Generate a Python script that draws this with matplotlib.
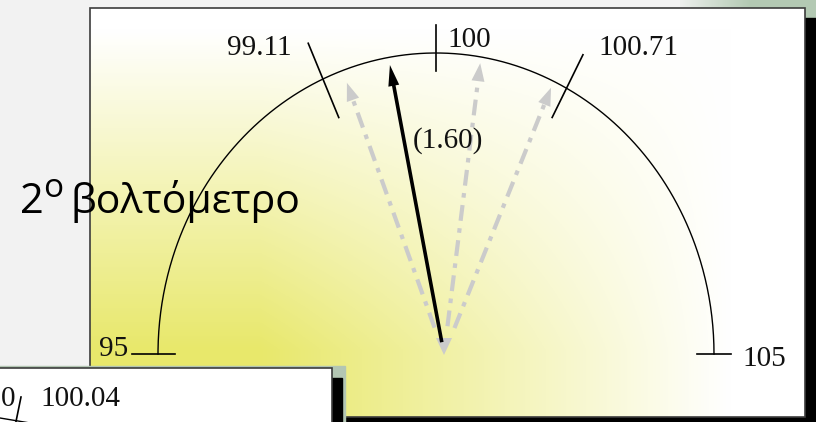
import numpy as np
import matplotlib
matplotlib.use('Agg')
import matplotlib.pyplot as plt
from matplotlib.patches import Rectangle, Polygon

# ---------------- data ----------------
scale_min, scale_max = 95, 105
tick_values = [95, 99.11, 100, 100.71, 105]
tick_labels = ['95', '99.11', '100', '100.71', '105']
tick_angles = [180, 114, 90, 62, 0]          # where each tick sits on the dial (deg)
needle_label = '(1.60)'
needle_angle = 100.6                          # black needle direction (deg)
ghost_angles = [109.7, 82.9, 68.1]            # grey dash-dot needles (deg)
title_parts = ['2', 'ο', 'βολτόμετρο']
second_labels = ['0', '100.04']

# ---------------- layout / style ----------------
W, H = 816, 422
cx, cy, rx, ry = 436, 354, 278, 301           # dial arc
px, py = 444, 354                             # needle pivot
tick_inner = [0.939, 0.86, 0.94, 0.89, 0.939]
tick_outer = [1.094, 1.13, 1.093, 1.126, 1.061]
label_pos = [(128, 356, 'right'), (259, 55, 'center'), (447, 47, 'left'),
             (638, 55, 'center'), (742, 366, 'left')]
needle_len = 294
ghost_len = [288, 293, 287]
serif = ['Liberation Serif', 'DejaVu Serif']
sans = ['Open Sans', 'Noto Sans', 'DejaVu Sans']
ghost_col = '#cbcbcb'

fig = plt.figure(figsize=(W / 100, H / 100), dpi=100)
ax = fig.add_axes([0, 0, 1, 1])
ax.set_xlim(0, W)
ax.set_ylim(H, 0)
ax.axis('off')

# slide background
ax.add_patch(Rectangle((0, 0), W, H, color='#f2f2f2', zorder=0))
band = np.linspace(0, 1, 200)[None, :, None]
c0 = np.array([0.93, 0.94, 0.93]); c1 = np.array([0.70, 0.79, 0.70])
ax.imshow(c0 * (1 - band) + c1 * band, extent=[680, 750, 18, 0], aspect='auto', zorder=0.5)
ax.add_patch(Rectangle((750, 0), 70, 18, color='#b3c9b3', zorder=0.5))

# main panel: shadow + gradient fill + frame
ax.add_patch(Rectangle((100, 18), 720, 420, color='black', zorder=1))
x0, x1, y0, y1 = 90, 805, 8, 417
gx, gy = np.meshgrid(np.linspace(x0, x1, 400), np.linspace(y0, y1, 240))
tx = np.clip((730 - gx) / (730 - 260), 0, 1)
ty = np.clip((gy - 30) / (350 - 30), 0, 1)
t = (tx * ty) ** 1.0
yel = np.array([0.91, 0.91, 0.42])
img = (1 - t[..., None]) * 1.0 + t[..., None] * yel
ax.imshow(img, extent=[x0, x1, y1, y0], aspect='auto', zorder=2)
ax.add_patch(Rectangle((x0, y0), x1 - x0, y1 - y0, fill=False, ec='#3c3c3c', lw=1.2, zorder=2.1))

# dial arc
th = np.linspace(0, np.pi, 500)
ax.plot(cx + rx * np.cos(th), cy - ry * np.sin(th), color='black', lw=1.0, zorder=3)

# ticks + labels
for v, lab, a, fi, fo, (lx, ly, ha) in zip(tick_values, tick_labels, tick_angles,
                                           tick_inner, tick_outer, label_pos):
    r = np.radians(a)
    xs = [cx + fi * rx * np.cos(r), cx + fo * rx * np.cos(r)]
    ys = [cy - fi * ry * np.sin(r), cy - fo * ry * np.sin(r)]
    ax.plot(xs, ys, color='black', lw=1.2, zorder=3)
    ax.text(lx, ly, lab, ha=ha, va='baseline', fontsize=21, family=serif,
            color='#111111', zorder=4)


def head(tipx, tipy, ang, length, half, color, z):
    r = np.radians(ang)
    ux, uy = np.cos(r), -np.sin(r)
    nx, ny = -uy, ux
    bx, by = tipx - length * ux, tipy - length * uy
    ax.add_patch(Polygon([(tipx, tipy), (bx + half * nx, by + half * ny),
                          (bx - half * nx, by - half * ny)], closed=True,
                         color=color, lw=0, zorder=z))


# grey dash-dot needles
for a, L in zip(ghost_angles, ghost_len):
    r = np.radians(a)
    ux, uy = np.cos(r), -np.sin(r)
    ax.plot([px + 28 * ux, px + (L - 14) * ux], [py + 28 * uy, py + (L - 14) * uy],
            color=ghost_col, lw=3.0, ls=(0, (3.8, 1.8, 1.1, 1.8)),
            solid_capstyle='butt', dash_capstyle='butt', zorder=3.5)
    head(px + L * ux, py + L * uy, a, 18, 6.5, ghost_col, 3.5)
head(px, py + 1, -90, 17, 8, ghost_col, 3.5)

# black needle
r = np.radians(needle_angle)
ux, uy = np.cos(r), -np.sin(r)
ax.plot([px + 12 * ux, px + (needle_len - 15) * ux], [py + 12 * uy, py + (needle_len - 15) * uy],
        color='black', lw=2.6, solid_capstyle='butt', zorder=4)
head(px + needle_len * ux, py + needle_len * uy, needle_angle, 21, 5.5, 'black', 4)
ax.text(413, 148, needle_label, ha='left', va='baseline', fontsize=21, family=serif,
        color='#111111', zorder=4)

# second (lower) panel
ax.add_patch(Rectangle((-5, 366), 350, 70, color='#b3c6b3', zorder=5))
ax.add_patch(Rectangle((-5, 378), 347, 60, color='black', zorder=5.1))
ax.add_patch(Rectangle((-5, 368), 337, 70, fc='white', ec='#3c3c3c', lw=1.2, zorder=5.2))
ax.text(15, 406, second_labels[0], ha='right', va='baseline', fontsize=21, family=serif,
        color='#111111', zorder=5.5)
ax.text(40, 406, second_labels[1], ha='left', va='baseline', fontsize=21, family=serif,
        color='#111111', zorder=5.5)
ax.plot([21, 15.5], [397, 424], color='black', lw=1.2, zorder=5.5)
ax.plot([0, 30], [418, 423], color='black', lw=1.0, zorder=5.5)

# title
ax.text(20, 213, title_parts[0], ha='left', va='baseline', fontsize=30, family=sans,
        color='black', zorder=10)
ax.text(43, 197, title_parts[1], ha='left', va='baseline', fontsize=24, family=sans,
        color='black', zorder=10)
ax.text(71, 213, title_parts[2], ha='left', va='baseline', fontsize=29.5, family=sans,
        color='black', zorder=10)

fig.savefig('out.png', dpi=100)
